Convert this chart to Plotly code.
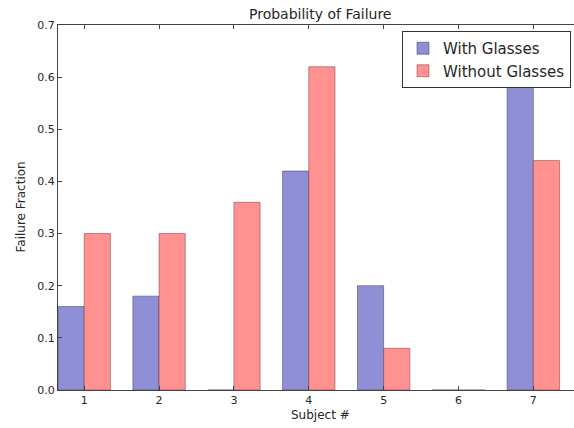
import plotly.graph_objects as go

subjects = [1, 2, 3, 4, 5, 6, 7]
with_glasses = [0.16, 0.18, 0.0, 0.42, 0.20, 0.0, 0.58]
without_glasses = [0.30, 0.30, 0.36, 0.62, 0.08, 0.0, 0.44]
y_ticks = [0.0, 0.1, 0.2, 0.3, 0.4, 0.5, 0.6, 0.7]

# The reference axes extend slightly beyond the visible 574px window
W, H = 582, 428
L, R, T, B = 58, 0, 25, 38

fig = go.Figure()
fig.add_trace(go.Bar(x=subjects, y=with_glasses, name="With Glasses",
                     marker=dict(color="rgb(143,143,214)",
                                 line=dict(color="rgba(40,40,90,0.45)", width=1))))
fig.add_trace(go.Bar(x=subjects, y=without_glasses, name="Without Glasses",
                     marker=dict(color="rgb(255,145,145)",
                                 line=dict(color="rgba(110,40,40,0.45)", width=1))))

font = dict(family="DejaVu Sans", size=11, color="#262626")
fig.update_layout(
    width=W, height=H,
    margin=dict(l=L, r=R, t=T, b=B, autoexpand=False),
    paper_bgcolor="white", plot_bgcolor="white",
    barmode="group", bargap=0.3, bargroupgap=0,
    font=font,
    showlegend=True,
    legend=dict(x=(402 - L) / (W - L), y=(390 - 31) / (390 - 25),
                xanchor="left", yanchor="top",
                bordercolor="#333", borderwidth=1, bgcolor="white",
                font=dict(family="DejaVu Sans", size=15, color="#262626"),
                itemwidth=30, tracegroupgap=0),
    xaxis=dict(range=[0.65, 7.65], tickvals=subjects, ticktext=[str(s) for s in subjects],
               ticks="inside", ticklen=4, tickcolor="#444",
               showline=True, linecolor="#444", linewidth=1, mirror="ticks",
               showgrid=False, zeroline=False, tickfont=font),
    yaxis=dict(range=[0, 0.7], tickvals=y_ticks, ticktext=[f"{v:.1f}" for v in y_ticks],
               ticks="inside", ticklen=4, tickcolor="#444",
               showline=True, linecolor="#444", linewidth=1, mirror="ticks",
               showgrid=False, zeroline=False, tickfont=font),
)

fig.add_annotation(text="Probability of Failure", xref="paper", yref="paper",
                   x=0.5, y=1, yanchor="bottom", yshift=1, showarrow=False,
                   font=dict(family="DejaVu Sans", size=14, color="#262626"))
fig.add_annotation(text="Subject #", xref="paper", yref="paper",
                   x=0.5, y=0, yanchor="top", yshift=-16, showarrow=False,
                   font=dict(family="DejaVu Sans", size=12, color="#262626"))
fig.add_annotation(text="Failure Fraction", xref="paper", yref="paper",
                   x=0, y=0.5, xanchor="right", xshift=-29, textangle=-90, showarrow=False,
                   font=dict(family="DejaVu Sans", size=12, color="#262626"))

fig.write_html("out.html", config={"displayModeBar": False},
               post_script="document.body.style.margin='0px';document.body.style.overflow='hidden';")
